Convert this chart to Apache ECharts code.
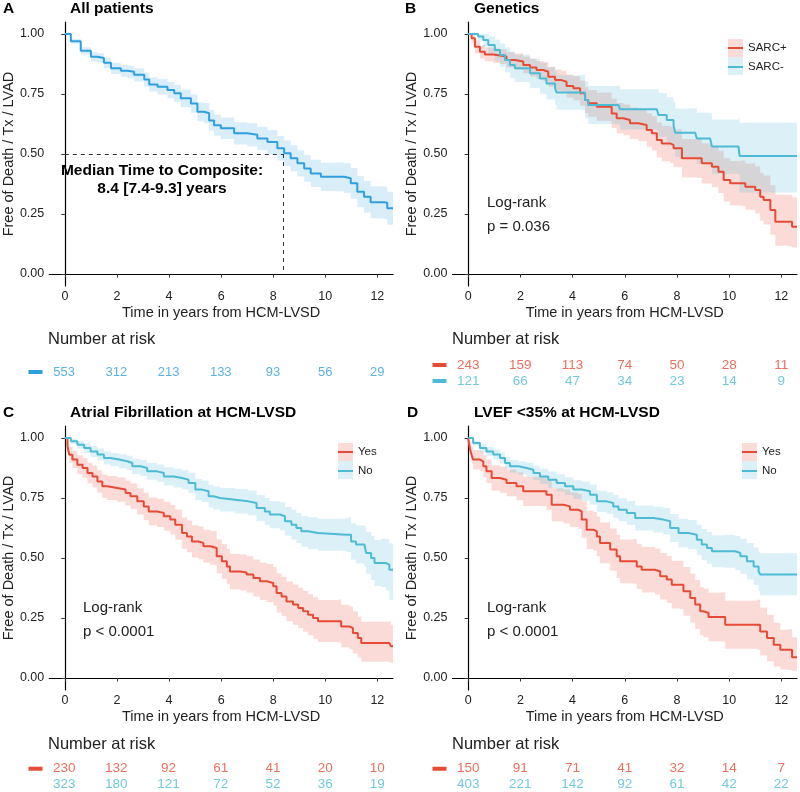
<!DOCTYPE html>
<html><head><meta charset="utf-8">
<script src="https://cdn.jsdelivr.net/npm/echarts@6/dist/echarts.min.js"></script>
<style>html,body{margin:0;padding:0;background:#fff}#c{width:800px;height:792px}</style>
</head><body><div id="c"></div>
<script>
// ---- Data: [time (years), survival, lower CI, upper CI] ----
const allPatients = [[0,1,1,1],[0.23,0.97,0.96,0.98],[0.61,0.93,0.915,0.945],[1.0,0.905,0.885,0.925],[1.25,0.9,0.88,0.92],[1.5,0.88,0.858,0.9],[1.77,0.857,0.833,0.88],[2.15,0.847,0.822,0.872],[2.4,0.843,0.817,0.868],[2.66,0.83,0.802,0.857],[3.05,0.81,0.78,0.84],[3.24,0.79,0.76,0.82],[3.56,0.78,0.748,0.812],[3.94,0.767,0.733,0.8],[4.2,0.753,0.718,0.788],[4.45,0.732,0.695,0.768],[4.84,0.71,0.672,0.748],[5.09,0.676,0.636,0.716],[5.35,0.67,0.628,0.712],[5.54,0.64,0.597,0.683],[5.73,0.62,0.576,0.664],[5.99,0.607,0.562,0.652],[6.5,0.586,0.54,0.632],[7.0,0.58,0.532,0.628],[7.39,0.565,0.516,0.614],[7.78,0.55,0.5,0.6],[8.16,0.524,0.473,0.575],[8.42,0.503,0.45,0.556],[8.67,0.482,0.428,0.536],[8.93,0.461,0.406,0.516],[9.19,0.44,0.384,0.496],[9.44,0.419,0.362,0.476],[9.83,0.405,0.346,0.464],[10.34,0.405,0.345,0.465],[10.72,0.399,0.337,0.461],[10.98,0.378,0.314,0.442],[11.23,0.343,0.278,0.408],[11.49,0.322,0.256,0.388],[11.74,0.299,0.232,0.366],[12.26,0.297,0.229,0.365],[12.38,0.274,0.205,0.343],[12.6,0.274,0.205,0.343]];

const sarcPos = [[0,1,1,1],[0.13,0.982,0.965,0.995],[0.26,0.947,0.92,0.972],[0.45,0.926,0.898,0.953],[0.64,0.915,0.886,0.944],[0.96,0.91,0.88,0.94],[1.22,0.906,0.875,0.937],[1.47,0.892,0.86,0.924],[1.79,0.885,0.851,0.919],[2.11,0.871,0.836,0.906],[2.37,0.86,0.823,0.897],[2.62,0.85,0.812,0.888],[2.88,0.843,0.803,0.883],[3.07,0.822,0.78,0.864],[3.33,0.808,0.764,0.852],[3.58,0.801,0.755,0.847],[3.77,0.783,0.735,0.831],[4.03,0.774,0.724,0.824],[4.29,0.753,0.701,0.805],[4.48,0.725,0.671,0.779],[4.6,0.711,0.655,0.767],[4.93,0.697,0.639,0.755],[5.3,0.697,0.638,0.756],[5.5,0.669,0.608,0.73],[5.69,0.649,0.586,0.712],[5.95,0.642,0.578,0.706],[6.2,0.628,0.562,0.694],[6.52,0.621,0.553,0.689],[6.84,0.6,0.53,0.67],[7.04,0.586,0.515,0.657],[7.23,0.558,0.485,0.631],[7.42,0.544,0.47,0.618],[7.74,0.538,0.462,0.614],[7.87,0.524,0.446,0.602],[8.19,0.482,0.402,0.562],[8.76,0.482,0.4,0.564],[8.95,0.461,0.377,0.545],[9.34,0.447,0.361,0.533],[9.59,0.426,0.338,0.514],[9.79,0.392,0.302,0.482],[10.04,0.378,0.285,0.471],[10.49,0.378,0.283,0.473],[10.62,0.364,0.268,0.46],[11.0,0.35,0.252,0.448],[11.19,0.322,0.222,0.422],[11.32,0.308,0.206,0.41],[11.58,0.267,0.164,0.37],[11.77,0.218,0.118,0.33],[12.28,0.218,0.115,0.33],[12.41,0.197,0.11,0.32],[12.6,0.197,0.11,0.32]];

const sarcNeg = [[0,1,1,1],[0.26,1,1,1],[0.38,0.99,0.972,1],[0.58,0.975,0.948,1],[0.77,0.954,0.918,0.99],[1.02,0.933,0.89,0.976],[1.22,0.912,0.864,0.96],[1.41,0.892,0.84,0.944],[1.6,0.871,0.816,0.926],[1.79,0.857,0.8,0.914],[2.17,0.857,0.799,0.915],[2.37,0.836,0.775,0.897],[2.75,0.815,0.751,0.879],[3.0,0.794,0.727,0.861],[3.33,0.774,0.704,0.844],[3.39,0.756,0.684,0.828],[4.35,0.756,0.682,0.83],[4.48,0.725,0.648,0.802],[4.6,0.704,0.625,0.783],[5.76,0.704,0.622,0.786],[5.82,0.686,0.602,0.77],[7.23,0.686,0.598,0.774],[7.29,0.663,0.572,0.754],[7.61,0.642,0.548,0.736],[7.87,0.621,0.524,0.718],[7.93,0.589,0.488,0.69],[8.7,0.589,0.485,0.693],[8.76,0.565,0.458,0.672],[9.27,0.561,0.452,0.67],[9.34,0.531,0.418,0.644],[10.36,0.531,0.412,0.65],[10.4,0.492,0.34,0.63],[12.6,0.492,0.335,0.63]];

const afYes = [[0,1,1,1],[0.03,1,1,1],[0.1,0.965,0.94,0.99],[0.17,0.93,0.897,0.963],[0.29,0.91,0.874,0.946],[0.48,0.889,0.85,0.928],[0.68,0.875,0.834,0.916],[0.87,0.854,0.811,0.897],[1.06,0.84,0.795,0.885],[1.25,0.819,0.772,0.866],[1.44,0.799,0.75,0.848],[1.63,0.792,0.742,0.842],[2.01,0.785,0.734,0.836],[2.33,0.771,0.719,0.823],[2.52,0.757,0.704,0.81],[2.78,0.736,0.681,0.791],[3.03,0.715,0.658,0.772],[3.22,0.694,0.636,0.752],[3.54,0.688,0.629,0.747],[3.8,0.674,0.614,0.734],[4.05,0.66,0.598,0.722],[4.24,0.639,0.576,0.702],[4.5,0.604,0.539,0.669],[4.69,0.59,0.524,0.656],[4.88,0.569,0.502,0.636],[5.13,0.563,0.495,0.631],[5.32,0.549,0.48,0.618],[5.58,0.542,0.472,0.612],[5.83,0.507,0.436,0.578],[6.03,0.486,0.414,0.558],[6.22,0.465,0.392,0.538],[6.34,0.444,0.37,0.518],[6.73,0.44,0.365,0.515],[6.98,0.431,0.355,0.507],[7.24,0.417,0.34,0.494],[7.49,0.403,0.325,0.481],[7.75,0.396,0.317,0.475],[8.0,0.382,0.302,0.462],[8.13,0.354,0.273,0.435],[8.32,0.34,0.258,0.422],[8.51,0.319,0.236,0.402],[8.76,0.306,0.222,0.39],[8.96,0.292,0.208,0.376],[9.15,0.278,0.193,0.363],[9.34,0.264,0.178,0.35],[9.53,0.25,0.164,0.336],[9.72,0.236,0.15,0.325],[10.48,0.236,0.148,0.327],[10.61,0.215,0.128,0.305],[10.93,0.208,0.12,0.298],[11.06,0.188,0.102,0.278],[11.25,0.167,0.085,0.255],[11.38,0.146,0.068,0.234],[12.46,0.146,0.066,0.236],[12.52,0.132,0.062,0.222],[12.6,0.132,0.062,0.222]];

const afNo = [[0,1,1,1],[0.23,0.986,0.975,0.997],[0.48,0.972,0.956,0.988],[0.74,0.958,0.938,0.978],[0.99,0.944,0.921,0.967],[1.25,0.931,0.906,0.956],[1.5,0.917,0.89,0.944],[1.76,0.91,0.882,0.938],[2.08,0.903,0.874,0.932],[2.39,0.896,0.866,0.926],[2.59,0.882,0.85,0.914],[2.9,0.875,0.842,0.908],[3.16,0.861,0.826,0.896],[3.54,0.854,0.818,0.89],[3.8,0.84,0.802,0.878],[4.18,0.833,0.794,0.872],[4.5,0.826,0.786,0.866],[4.75,0.813,0.771,0.855],[5.01,0.785,0.741,0.829],[5.26,0.778,0.733,0.823],[5.52,0.757,0.71,0.804],[5.71,0.75,0.702,0.798],[5.96,0.743,0.694,0.792],[6.54,0.736,0.685,0.787],[7.04,0.729,0.677,0.781],[7.36,0.708,0.654,0.762],[7.68,0.694,0.638,0.75],[7.87,0.681,0.624,0.738],[8.25,0.674,0.616,0.732],[8.45,0.653,0.593,0.713],[8.7,0.639,0.577,0.701],[8.89,0.625,0.562,0.688],[9.08,0.611,0.547,0.675],[9.34,0.604,0.538,0.67],[9.72,0.597,0.53,0.664],[10.8,0.597,0.525,0.669],[10.99,0.569,0.493,0.645],[11.18,0.556,0.477,0.635],[11.5,0.549,0.466,0.632],[11.57,0.521,0.434,0.608],[11.76,0.5,0.408,0.592],[11.89,0.479,0.383,0.575],[12.14,0.479,0.378,0.58],[12.33,0.472,0.365,0.579],[12.46,0.451,0.326,0.56],[12.6,0.451,0.326,0.56]];

const lvefYes = [[0,1,1,1],[0.06,0.958,0.93,0.985],[0.13,0.93,0.895,0.965],[0.19,0.91,0.87,0.95],[0.45,0.903,0.861,0.945],[0.58,0.882,0.836,0.928],[0.7,0.861,0.812,0.91],[0.9,0.833,0.78,0.886],[1.22,0.826,0.772,0.88],[1.47,0.813,0.757,0.869],[1.85,0.799,0.741,0.857],[2.11,0.778,0.717,0.839],[2.75,0.778,0.716,0.84],[3.0,0.764,0.7,0.828],[3.2,0.722,0.653,0.791],[3.65,0.715,0.645,0.785],[3.9,0.701,0.629,0.773],[4.22,0.694,0.621,0.767],[4.35,0.66,0.584,0.736],[4.54,0.618,0.538,0.698],[4.8,0.611,0.53,0.692],[4.93,0.59,0.507,0.673],[5.05,0.563,0.478,0.648],[5.31,0.563,0.477,0.649],[5.44,0.535,0.447,0.623],[5.69,0.507,0.417,0.597],[5.82,0.486,0.395,0.577],[6.33,0.486,0.393,0.579],[6.46,0.465,0.371,0.559],[6.65,0.451,0.356,0.546],[7.16,0.444,0.348,0.54],[7.36,0.424,0.327,0.521],[7.61,0.41,0.312,0.508],[7.8,0.389,0.29,0.488],[8.12,0.389,0.288,0.49],[8.25,0.361,0.259,0.463],[8.51,0.333,0.231,0.435],[8.7,0.306,0.204,0.408],[8.89,0.278,0.177,0.379],[9.02,0.271,0.17,0.372],[9.21,0.254,0.153,0.355],[9.72,0.254,0.151,0.357],[9.85,0.222,0.122,0.322],[11.07,0.222,0.118,0.326],[11.19,0.194,0.094,0.294],[11.45,0.167,0.07,0.264],[11.71,0.139,0.048,0.23],[11.96,0.118,0.035,0.201],[12.22,0.118,0.033,0.203],[12.41,0.086,0.03,0.17],[12.6,0.086,0.03,0.17]];

const lvefNo = [[0,1,1,1],[0.19,0.979,0.968,0.99],[0.45,0.958,0.942,0.974],[0.7,0.944,0.925,0.963],[0.96,0.931,0.91,0.952],[1.22,0.917,0.894,0.94],[1.41,0.896,0.871,0.921],[1.6,0.882,0.856,0.908],[1.92,0.875,0.848,0.902],[2.24,0.868,0.839,0.897],[2.5,0.854,0.824,0.884],[2.75,0.84,0.808,0.872],[3.07,0.826,0.792,0.86],[3.39,0.813,0.777,0.849],[3.71,0.799,0.762,0.836],[4.03,0.785,0.746,0.824],[4.35,0.778,0.738,0.818],[4.67,0.764,0.722,0.806],[4.93,0.736,0.692,0.78],[5.31,0.729,0.684,0.774],[5.56,0.715,0.668,0.762],[5.76,0.701,0.653,0.749],[6.08,0.688,0.638,0.738],[6.4,0.667,0.615,0.719],[7.1,0.66,0.606,0.714],[7.48,0.653,0.598,0.708],[7.74,0.625,0.567,0.683],[8.06,0.604,0.544,0.664],[8.44,0.597,0.536,0.658],[8.76,0.576,0.513,0.639],[8.95,0.556,0.491,0.621],[9.15,0.542,0.476,0.608],[9.34,0.528,0.461,0.595],[9.85,0.528,0.459,0.597],[10.23,0.521,0.45,0.592],[10.43,0.507,0.434,0.58],[10.68,0.486,0.41,0.562],[10.94,0.465,0.386,0.544],[11.13,0.444,0.362,0.526],[11.19,0.431,0.345,0.52],[12.6,0.431,0.338,0.524]];

// Number at risk
const riskTimes = [0, 2, 4, 6, 8, 10, 12];
const riskAll = [553, 312, 213, 133, 93, 56, 29];
const riskSarcPos = [243, 159, 113, 74, 50, 28, 11];
const riskSarcNeg = [121, 66, 47, 34, 23, 14, 9];
const riskAfYes = [230, 132, 92, 61, 41, 20, 10];
const riskAfNo = [323, 180, 121, 72, 52, 36, 19];
const riskLvefYes = [150, 91, 71, 41, 32, 14, 7];
const riskLvefNo = [403, 221, 142, 92, 61, 42, 22];

// Axis ticks
const xTicks = [0, 2, 4, 6, 8, 10, 12];
const yTicks = [0, 0.25, 0.5, 0.75, 1];

// Median annotation (panel A)
const medianTime = 8.4;
const medianSurv = 0.5;

// ---- Styling ----
const RED = '#E64B35', CYAN = '#4DBBD5', BLUE = '#2E9FDF';
const FONT = 'Liberation Sans, Arial, sans-serif';
const TXT = '#222';

const plotGrids = [
  {left: 48.5, top: 22, width: 344.5, height: 264},
  {left: 452.5, top: 22, width: 344.5, height: 264},
  {left: 48.5, top: 426, width: 344.5, height: 264},
  {left: 452.5, top: 426, width: 344.5, height: 264}
];
const riskGrids = [
  {left: 48.5, top: 356, width: 344.5, height: 32},
  {left: 452.5, top: 357, width: 344.5, height: 32},
  {left: 48.5, top: 761, width: 344.5, height: 32},
  {left: 452.5, top: 761, width: 344.5, height: 32}
];

const grid = [], xAxis = [], yAxis = [], series = [], bandSeries = [], lineSeries = [];

plotGrids.forEach((g, i) => {
  grid.push(Object.assign({containLabel: false}, g));
  xAxis.push({
    type: 'value', gridIndex: i, min: -0.6, max: 12.6,
    name: 'Time in years from HCM-LVSD', nameLocation: 'middle', nameGap: 19,
    nameTextStyle: {fontFamily: FONT, fontSize: 14.5, color: TXT},
    splitLine: {show: false},
    axisLine: {lineStyle: {color: '#000', width: 1.2}},
    axisTick: {show: true, length: 3.5, lineStyle: {color: '#333'}, customValues: xTicks},
    axisLabel: {customValues: xTicks, fontFamily: FONT, fontSize: 12.5, color: TXT, margin: 4}
  });
  yAxis.push({
    type: 'value', gridIndex: i, min: -0.05, max: 1.05,
    name: 'Free of Death / Tx / LVAD', nameLocation: 'middle', nameGap: 33,
    nameTextStyle: {fontFamily: FONT, fontSize: 14.5, color: TXT},
    splitLine: {show: false},
    axisLine: {show: true, lineStyle: {color: '#000', width: 1.2}},
    axisTick: {show: true, length: 3.5, lineStyle: {color: '#333'}, customValues: yTicks},
    axisLabel: {customValues: yTicks, fontFamily: FONT, fontSize: 12.5, color: TXT, margin: 5,
      formatter: v => v.toFixed(2)}
  });
});

const riskCats = [['All'], ['SARC+', 'SARC-'], ['Yes', 'No'], ['Yes', 'No']];
const riskColors = [[BLUE], [RED, CYAN], [RED, CYAN], [RED, CYAN]];
riskGrids.forEach((g, k) => {
  const gi = 4 + k;
  grid.push(Object.assign({containLabel: false}, g));
  xAxis.push({type: 'value', gridIndex: gi, min: -0.6, max: 12.6, show: false});
  const cols = riskColors[k];
  const rich = {};
  cols.forEach((c, j) => { rich['b' + j] = {width: 14, height: 4, lineHeight: 4, backgroundColor: c}; });
  yAxis.push({
    type: 'category', gridIndex: gi, data: riskCats[k], inverse: true,
    axisLine: {show: false}, axisTick: {show: false}, splitLine: {show: false},
    axisLabel: {margin: 6, formatter: (v, idx) => '{b' + idx + '| }', rich: rich}
  });
});

// Confidence band: one stepped polygon drawn through the axes' scales
function bandRenderer(rows, color, opacity) {
  return function (params, api) {
    if (params.dataIndex !== 0) return null;
    const upper = [], lower = [];
    for (let i = 0; i < rows.length; i++) {
      const t0 = rows[i][0];
      const t1 = i + 1 < rows.length ? rows[i + 1][0] : rows[i][0];
      upper.push(api.coord([t0, rows[i][3]]), api.coord([t1, rows[i][3]]));
      lower.push(api.coord([t0, rows[i][2]]), api.coord([t1, rows[i][2]]));
    }
    const pts = upper.concat(lower.reverse());
    return {type: 'polygon', shape: {points: pts}, style: {fill: color, opacity: opacity}, silent: true};
  };
}

function addCurve(gi, name, rows, color, opacity, extra) {
  bandSeries.push({
    type: 'custom', name: name + ' ci', xAxisIndex: gi, yAxisIndex: gi, silent: true, clip: true,
    data: rows.map(r => [r[0], r[2], r[3]]), encode: {x: 0, y: [1, 2]},
    renderItem: bandRenderer(rows, color, opacity), z: 1
  });
  lineSeries.push(Object.assign({
    type: 'line', name: name, xAxisIndex: gi, yAxisIndex: gi, step: 'end',
    data: rows.map(r => [r[0], r[1]]), showSymbol: false, symbol: 'none',
    itemStyle: {color: color}, lineStyle: {color: color, width: 2}, z: 3
  }, extra || {}));
}

addCurve(0, 'All', allPatients, BLUE, 0.18, {
  markLine: {
    symbol: 'none', silent: true, label: {show: false},
    lineStyle: {type: [4, 4], color: '#333', width: 1},
    data: [
      [{coord: [0, medianSurv]}, {coord: [medianTime, medianSurv]}],
      [{coord: [medianTime, medianSurv]}, {coord: [medianTime, 0]}]
    ]
  }
});
addCurve(1, 'SARC+', sarcPos, RED, 0.2);
addCurve(1, 'SARC-', sarcNeg, CYAN, 0.2);
addCurve(2, 'Yes', afYes, RED, 0.2);
addCurve(2, 'No', afNo, CYAN, 0.2);
addCurve(3, 'Yes ', lvefYes, RED, 0.2);
addCurve(3, 'No ', lvefNo, CYAN, 0.2);

function addRisk(gi, rowIdx, counts, color, size) {
  series.push({
    type: 'scatter', xAxisIndex: gi, yAxisIndex: gi, symbolSize: 1, silent: true,
    itemStyle: {color: 'rgba(0,0,0,0)'},
    data: riskTimes.map((t, i) => [t, rowIdx, counts[i]]),
    label: {show: true, position: 'inside', formatter: p => String(p.value[2]),
      color: color, fontFamily: FONT, fontSize: size}
  });
}
addRisk(4, 0, riskAll, BLUE, 13);
addRisk(5, 0, riskSarcPos, RED, 13.5);
addRisk(5, 1, riskSarcNeg, CYAN, 13.5);
addRisk(6, 0, riskAfYes, RED, 13.5);
addRisk(6, 1, riskAfNo, CYAN, 13.5);
addRisk(7, 0, riskLvefYes, RED, 13.5);
addRisk(7, 1, riskLvefNo, CYAN, 13.5);

const allSeries = bandSeries.concat(lineSeries, series);

const boldT = {fontFamily: FONT, fontSize: 15.5, fontWeight: 'bold', color: '#000'};
const plainT = {fontFamily: FONT, fontSize: 15, fontWeight: 'normal', color: TXT, lineHeight: 24};
const riskT = {fontFamily: FONT, fontSize: 16.5, fontWeight: 'normal', color: TXT};
const title = [
  {text: 'A', left: 3, top: 1, padding: 0, textStyle: boldT},
  {text: 'All patients', left: 70, top: 1, padding: 0, textStyle: boldT},
  {text: 'B', left: 405, top: 1, padding: 0, textStyle: boldT},
  {text: 'Genetics', left: 474, top: 1, padding: 0, textStyle: boldT},
  {text: 'C', left: 3, top: 405, padding: 0, textStyle: boldT},
  {text: 'Atrial Fibrillation at HCM-LVSD', left: 70, top: 405, padding: 0, textStyle: boldT},
  {text: 'D', left: 407, top: 405, padding: 0, textStyle: boldT},
  {text: 'LVEF <35% at HCM-LVSD', left: 474, top: 405, padding: 0, textStyle: boldT},
  {text: 'Median Time to Composite:\n8.4 [7.4-9.3] years', left: 162, top: 161, padding: 0, textAlign: 'center',
    textStyle: Object.assign({}, boldT, {lineHeight: 18.5})},
  {text: 'Log-rank\np = 0.036', left: 487, top: 191, padding: 0, textStyle: plainT},
  {text: 'Log-rank\np < 0.0001', left: 83, top: 596, padding: 0, textStyle: plainT},
  {text: 'Log-rank\np < 0.0001', left: 487, top: 596, padding: 0, textStyle: plainT},
  {text: 'Number at risk', left: 48, top: 331, padding: 0, textStyle: riskT},
  {text: 'Number at risk', left: 452, top: 331, padding: 0, textStyle: riskT},
  {text: 'Number at risk', left: 48, top: 736, padding: 0, textStyle: riskT},
  {text: 'Number at risk', left: 452, top: 736, padding: 0, textStyle: riskT}
];

const legText = {fontFamily: FONT, fontSize: 11.5, color: TXT};
function mkLegend(names, left, top) {
  return {data: names, left: left, top: top, orient: 'vertical', icon: 'rect', itemWidth: 15, itemHeight: 2,
    itemGap: 7, padding: 0, textStyle: legText, selectedMode: false};
}
const legend = [
  mkLegend(['SARC+', 'SARC-'], 728, 42),
  mkLegend(['Yes', 'No'], 338, 446),
  mkLegend(['Yes ', 'No '], 742, 446)
];

function keyBox(x, y, c) {
  return {type: 'rect', left: x, top: y, shape: {width: 15, height: 18}, style: {fill: c, opacity: 0.2}, z: 0, silent: true};
}
const graphic = [
  keyBox(728, 39, RED), keyBox(728, 57, CYAN),
  keyBox(338, 443, RED), keyBox(338, 461, CYAN),
  keyBox(742, 443, RED), keyBox(742, 461, CYAN)
];

const chart = echarts.init(document.getElementById('c'), null, {renderer: 'canvas'});
chart.setOption({
  animation: false, backgroundColor: '#fff',
  title, legend, graphic, grid, xAxis, yAxis, series: allSeries
});
</script></body></html>
